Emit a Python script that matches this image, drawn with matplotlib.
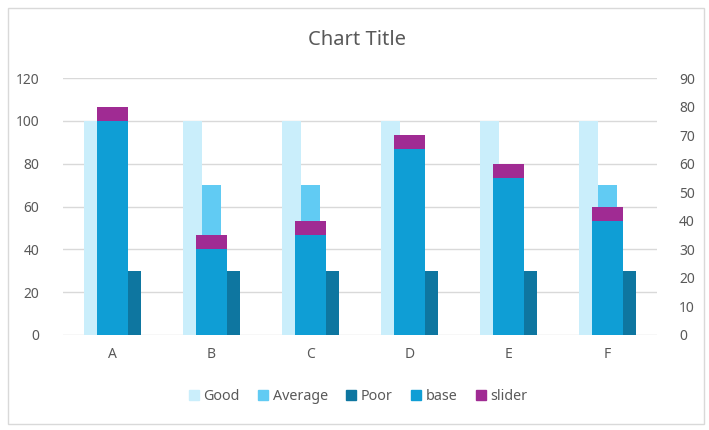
import numpy as np
import matplotlib.pyplot as plt
from matplotlib.patches import Rectangle, Patch

plt.rcParams['font.family'] = ['Noto Sans', 'DejaVu Sans']

# Data
categories = ['A', 'B', 'C', 'D', 'E', 'F']
good = [100, 100, 100, 100, 100, 100]
average = [70, 70, 70, 70, 70, 70]
poor = [30, 30, 30, 30, 30, 30]
base = [75, 30, 35, 65, 55, 40]
slider = [5, 5, 5, 5, 5, 5]

# Colours
c_good = '#CAEEFB'
c_avg = '#61CBF3'
c_poor = '#0E76A0'
c_base = '#0F9ED5'
c_slider = '#A02B93'
c_text = '#595959'
c_grid = '#D9D9D9'

fig = plt.figure(figsize=(7.09, 4.30), dpi=100)
fig.subplots_adjust(left=63/709, right=657/709, bottom=95/430, top=352/430)
fig.patches.append(Rectangle((8/709, 6/430), 696/709, 416/430, transform=fig.transFigure,
                             fill=False, edgecolor='#D9D9D9', linewidth=1))

ax = fig.add_subplot(111)
ax2 = ax.twinx()

x = np.arange(len(categories))
w = 0.193

# Primary axis: clustered bands
ax.bar(x - w, good, w, color=c_good, zorder=2)
ax.bar(x, average, w, color=c_avg, zorder=2)
ax.bar(x + w, poor, w, color=c_poor, zorder=2)

# Secondary axis: stacked base + slider
sw = 0.31
ax2.bar(x, base, sw, color=c_base, zorder=3)
ax2.bar(x, slider, sw, bottom=base, color=c_slider, zorder=3)

ax.set_xlim(-0.5, len(categories) - 0.5)
ax.set_ylim(0, 120)
ax.set_yticks(np.arange(0, 121, 20))
ax2.set_ylim(0, 90)
ax2.set_yticks(np.arange(0, 91, 10))
ax.set_xticks(x)
ax.set_xticklabels(categories)

ax.yaxis.grid(True, color=c_grid, linewidth=1)
ax.set_axisbelow(True)
for a in (ax, ax2):
    for s in a.spines.values():
        s.set_visible(False)
    a.tick_params(length=0, colors=c_text, labelsize=10)
ax.tick_params(axis='y', pad=17)
ax.tick_params(axis='x', pad=9)
ax2.tick_params(axis='y', pad=16)

fig.suptitle('Chart Title', x=0.503, y=0.93, fontsize=14.5, color=c_text)

handles = [Patch(color=c) for c in (c_good, c_avg, c_poor, c_base, c_slider)]
labels = ['Good', 'Average', 'Poor', 'base', 'slider']
fig.legend(handles, labels, loc='center', bbox_to_anchor=(0.505, 0.079), ncol=5, frameon=False,
           fontsize=10.3, labelcolor=c_text, handlelength=0.7, handleheight=0.7,
           handletextpad=0.3, columnspacing=1.3)

fig.savefig('out.png', dpi=100)
